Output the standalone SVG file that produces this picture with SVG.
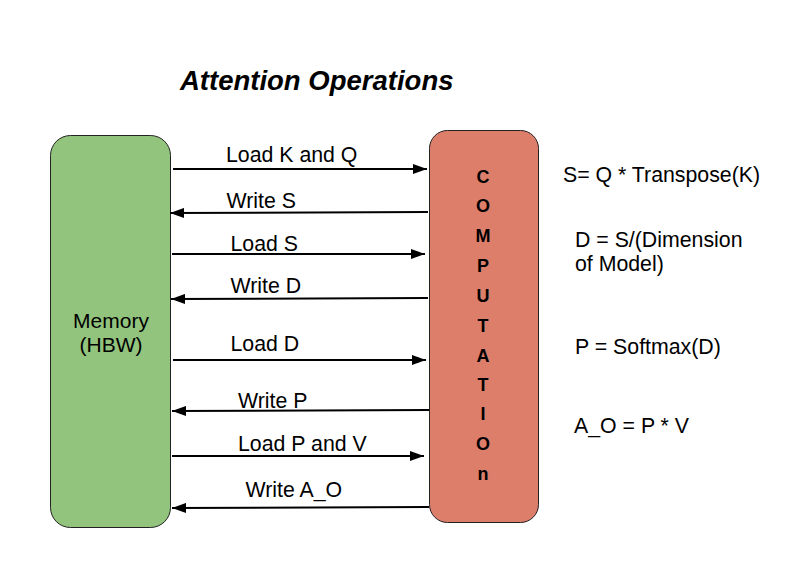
<svg xmlns="http://www.w3.org/2000/svg" width="792" height="564" viewBox="0 0 792 564">
<defs>
<style>
.lbl{font-family:"Liberation Sans",Arial,sans-serif;font-size:21.3px;fill:#000}
.cl{font-family:"Liberation Sans",Arial,sans-serif;font-size:18px;font-weight:bold;fill:#000;text-anchor:middle}
.conn line{stroke:#000;stroke-width:2;marker-end:url(#ah)}
</style>
<marker id="ah" markerUnits="userSpaceOnUse" markerWidth="14" markerHeight="10" refX="14" refY="5" orient="auto">
<path d="M0,0 L14,5 L0,10 z" fill="#000"/>
</marker>
</defs>
<rect width="792" height="564" fill="#fff"/>
<text x="180" y="90" font-family="Liberation Sans,Arial,sans-serif" font-size="27.5" font-weight="bold" font-style="italic">Attention Operations</text>
<g id="memory">
<rect x="50.5" y="135.5" width="120" height="392" rx="20" ry="20" fill="#93c47d" stroke="#222" stroke-width="1"/>
<text class="lbl" x="111" y="328" text-anchor="middle" style="font-size:21px">Memory</text>
<text class="lbl" x="111" y="352" text-anchor="middle" style="font-size:21px">(HBW)</text>
</g>
<g id="computation">
<rect x="429.5" y="130.5" width="109" height="392" rx="18" ry="18" fill="#dd7e6b" stroke="#222" stroke-width="1"/>
<text class="cl" x="483" y="183">C</text>
<text class="cl" x="483" y="212">O</text>
<text class="cl" x="483" y="242">M</text>
<text class="cl" x="483" y="272">P</text>
<text class="cl" x="483" y="302">U</text>
<text class="cl" x="483" y="332">T</text>
<text class="cl" x="483" y="362">A</text>
<text class="cl" x="483" y="391">T</text>
<text class="cl" x="483" y="420">I</text>
<text class="cl" x="483" y="450">O</text>
<text class="cl" x="483" y="480">n</text>
</g>
<g id="connectors" class="conn">
<line x1="173" y1="169" x2="427" y2="169"/>
<line x1="428" y1="212" x2="170" y2="213"/>
<line x1="172" y1="254" x2="425" y2="254"/>
<line x1="428" y1="298" x2="171" y2="299"/>
<line x1="173" y1="360" x2="426" y2="360"/>
<line x1="429" y1="410" x2="172" y2="411"/>
<line x1="172" y1="456" x2="424" y2="456"/>
<line x1="429" y1="507" x2="172" y2="508"/>
</g>
<g id="connector-labels">
<text class="lbl" x="226" y="162">Load K and Q</text>
<text class="lbl" x="226.5" y="208">Write S</text>
<text class="lbl" x="230.5" y="251">Load S</text>
<text class="lbl" x="230.5" y="293">Write D</text>
<text class="lbl" x="230.5" y="351">Load D</text>
<text class="lbl" x="238" y="408">Write P</text>
<text class="lbl" x="238" y="451">Load P and V</text>
<text class="lbl" x="245.5" y="497">Write A_O</text>
</g>
<g id="equations">
<text class="lbl" x="563" y="181.5">S= Q * Transpose(K)</text>
<text class="lbl" x="575" y="247">D = S/(Dimension</text>
<text class="lbl" x="575" y="271">of Model)</text>
<text class="lbl" x="575" y="354">P = Softmax(D)</text>
<text class="lbl" x="574" y="433">A_O = P * V</text>
</g>
</svg>
